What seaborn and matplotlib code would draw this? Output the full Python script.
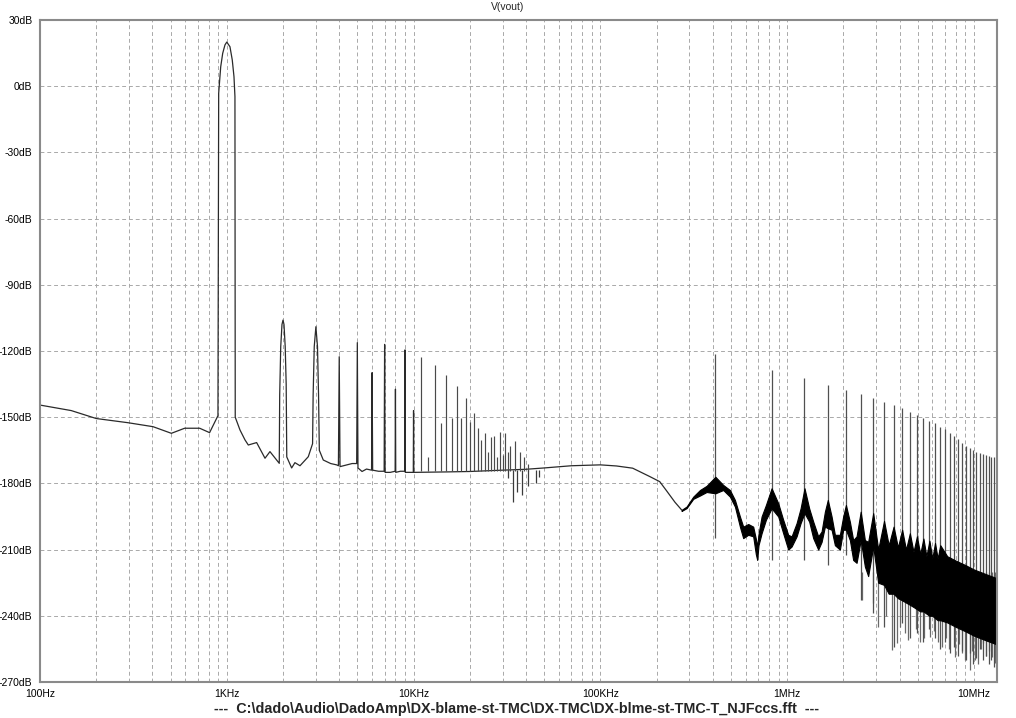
import numpy as np
import pandas as pd
import matplotlib
matplotlib.use("Agg")
import matplotlib.pyplot as plt
import seaborn as sns
from matplotlib.ticker import LogLocator, NullFormatter, FixedLocator

# ---------------- data ----------------
# main thin trace: noise floor, fundamental and low harmonics (Hz, dB)
trace_freq = [100, 147, 200, 296, 403, 505, 595, 716, 809, 897,
              905, 928, 951, 978, 1000, 1040, 1070, 1093, 1106, 1110,
              1177, 1252, 1304, 1445, 1602, 1703, 1910,
              1920, 1945, 1975, 2000, 2025, 2055, 2080, 2095,
              2225, 2317, 2466, 2732,
              2880, 2900, 2940, 3000, 3060, 3100, 3130,
              3286, 3600, 3873,
              3960, 4000, 4040, 4690,
              4960, 5000, 5040, 5300, 5600,
              5960, 6000, 6040, 6500,
              6960, 7000, 7040, 7500,
              7970, 8000, 8030, 8500,
              8970, 9000, 9030, 9500,
              9970, 10000, 10030,
              15000, 20000, 30000, 40000, 50000, 70000, 100000,
              122000, 149000, 184000, 208000, 227000, 250800, 272300]
trace_db = [-144.5, -147, -150.6, -152.5, -154.3, -157.3, -155, -155, -157, -149.3,
            -3.2, 8.8, 14.9, 18.7, 20, 17.9, 11.9, 4.3, -4.7, -150,
            -155.8, -160.3, -162.6, -161.5, -168.6, -165.6, -170.9,
            -140, -118, -108, -106, -108, -118, -135, -168,
            -173, -170.6, -172, -167.9,
            -162, -140, -118, -109, -118, -140, -165,
            -169.4, -171, -171.6,
            -172, -122.6, -172.4, -171,
            -171, -116.2, -173, -174.6, -173.5,
            -174, -129.8, -174, -174.5,
            -174.5, -117, -175, -175,
            -174.5, -137.3, -175, -174.5,
            -174.5, -119.5, -175, -175,
            -175, -147, -175,
            -174.8, -174.6, -174, -173.6, -173, -172, -171.6,
            -172.1, -173.1, -176.9, -179.2, -183.5, -188.5, -192]

# audio harmonics above 10 kHz (spikes up from the floor)
harm_freq = [11000, 12000, 13000, 14000, 15000, 16000, 17000, 18000, 19000, 20000,
             21000, 22000, 23000, 24000, 25000, 26000, 27000, 28000, 29000, 30000,
             31000, 32000, 33000, 35000, 37000, 39000, 41000]
harm_top = [-122.5, -168, -126.3, -152.7, -130.9, -150.5, -135.8, -150.5, -141.4, -152,
            -148.2, -155, -160.3, -157.3, -165.6, -158.8, -158.5, -167.9, -156.5, -167.1,
            -157.3, -165.6, -163, -160.6, -165.6, -167.9, -171]
harm_base = [-174.6] * len(harm_freq)

# downward spikes below the floor (30-50 kHz)
down_freq = [32000, 34000, 36000, 38000, 41000, 45000, 47000]
down_db = [-177.5, -188.3, -183.7, -185.2, -181.4, -180, -177]
down_top = [-173.8] * len(down_freq)

# switching-frequency band (Hz, upper edge dB, lower edge dB)
band_freq = [272.3e3, 289.7e3, 314.4e3, 341.5e3, 370.7e3, 413e3, 454.9e3, 494.1e3,
             525.6e3, 558.9e3, 582.1e3, 619.2e3, 658.4e3, 680e3, 691.8e3, 703e3,
             730.3e3, 770.1e3, 826e3, 896.3e3, 953.1e3, 1.0137e6, 1.0571e6, 1.1244e6,
             1.1812e6, 1.239e6, 1.3128e6, 1.3797e6, 1.4674e6, 1.53e6, 1.5937e6, 1.652e6,
             1.7306e6, 1.8026e6, 1.917e6, 1.9966e6, 2.065e6, 2.1686e6, 2.2584e6, 2.355e6,
             2.478e6, 2.6089e6, 2.7169e6, 2.891e6, 3.0738e6, 3.304e6, 3.5e6, 3.717e6,
             3.92e6, 4.13e6, 4.33e6, 4.543e6, 4.75e6, 4.956e6, 5.16e6, 5.369e6,
             5.57e6, 5.782e6, 5.99e6, 6.195e6, 6.4e6, 6.608e6, 7.2e6, 8.0e6,
             9.0e6, 10.0e6, 11.5e6, 13.3e6]
band_upper = [-192, -190.5, -186, -183, -181.1, -177, -180.7, -183,
              -187.5, -195, -199.6, -198.4, -199.6, -205, -208.6, -203,
              -195, -189.8, -182.2, -189, -196.5, -203.3, -204, -198,
              -191.3, -182.2, -191.3, -197.3, -204, -201.8, -192.8, -187.5,
              -195, -203.3, -203.3, -195, -189.8, -197.4, -205.7, -204,
              -192.8, -205.7, -206.5, -193.5, -210, -197, -208, -199.6,
              -209, -201, -210, -202.6, -211, -204, -212, -205,
              -213, -206, -214, -207, -214, -208, -213, -215,
              -217, -219, -221, -223]
band_lower = [-192.5, -191.2, -187, -185.5, -183.9, -184.5, -183, -186,
              -190.5, -199.6, -204.8, -203.3, -204, -212, -214.7, -208,
              -202.6, -196.5, -191.3, -195, -202.6, -210, -208.6, -204,
              -198, -193.5, -197.3, -204.8, -210, -206.5, -199.6, -200.3,
              -201, -208, -210, -201, -201, -205.7, -214.7, -216,
              -205.7, -217.7, -222, -208.6, -225, -226, -230, -230,
              -232, -233, -234, -235, -236, -237, -238, -238,
              -239, -240, -240, -241, -242, -242, -243, -245,
              -247, -249, -251, -253]

# switching harmonics (Hz, top dB, bottom dB)
sw_freq = [413e3, 826e3, 1.239e6, 1.652e6, 2.065e6, 2.478e6, 2.891e6, 3.304e6,
           3.717e6, 4.130e6, 4.543e6, 4.956e6, 5.369e6, 5.782e6, 6.195e6, 6.608e6,
           7.021e6, 7.434e6, 7.847e6, 8.260e6, 8.673e6, 9.086e6, 9.499e6, 9.912e6,
           10.325e6, 10.738e6, 11.151e6, 11.564e6, 11.977e6, 12.390e6, 12.803e6]
sw_top = [-121.5, -128.6, -132.4, -135.4, -137.7, -139.5, -141.4, -143,
          -144.4, -146, -147.5, -149, -150.5, -151.6, -152.8, -154.3,
          -155.5, -157, -158.5, -160, -161.5, -163, -164, -164.8,
          -165.6, -166.4, -166.7, -167.2, -167.6, -167.9, -168]
sw_bottom = [-204.8, -214.7, -214.7, -217, -212.4, -232.8, -238.8, -245,
             -254, -243.4, -250, -248, -252, -246, -250, -255,
             -252, -257, -254, -258, -256, -260, -257, -262,
             -259, -255, -260, -258, -262, -260, -263]

# deep gray spikes under the band
deep_freq = [2.503e6, 2.88e6, 3.074e6, 3.4e6, 3.626e6, 3.857e6, 4.0e6, 4.3e6,
             4.449e6, 4.9e6, 5.14e6, 5.4e6, 5.815e6, 6.1e6, 6.4e6, 6.717e6,
             7.1e6, 7.4e6, 7.913e6, 8.3e6, 8.6e6, 8.95e6, 9.52e6, 9.8e6,
             10.12e6, 10.5e6, 10.9e6, 11.21e6, 11.6e6, 12.0e6, 12.44e6, 12.95e6]
deep_db = [-232.8, -234.3, -245, -240, -255.5, -252.3, -245, -248,
           -251, -246, -251.7, -250, -249.4, -247, -252, -254,
           -250, -255, -258.5, -253, -257, -260, -264.5, -256,
           -260, -262, -255, -252.3, -258, -256, -258.5, -261.5]
deep_base = [-220] * len(deep_freq)

# axis labels
y_ticks = [30, 0, -30, -60, -90, -120, -150, -180, -210, -240, -270]
x_ticks = [1e2, 1e3, 1e4, 1e5, 1e6, 1e7]
x_labels = ["100Hz", "1KHz", "10KHz", "100KHz", "1MHz", "10MHz"]
title_text = "V(vout)"
footer_text = "---  C:\\dado\\Audio\\DadoAmp\\DX-blame-st-TMC\\DX-TMC\\DX-blme-st-TMC-T_NJFccs.fft  ---"

# ---------------- drawing ----------------
sns.set_theme(style="white")
plt.rcParams['font.family'] = ['Liberation Sans', 'DejaVu Sans']

W, H = 1016, 718
fig = plt.figure(figsize=(W / 100, H / 100), dpi=100)
fig.patch.set_facecolor("white")
ax = fig.add_axes([40 / W, 1 - 682 / H, (997 - 40) / W, (682 - 20) / H])
ax.set_facecolor("white")

ax.set_xscale("log")
ax.set_xlim(100, 1.33e7)
ax.set_ylim(-270, 30)

grid_kw = dict(color="#a9a9a9", lw=0.7, ls=(0, (4, 3)))
ax.xaxis.set_major_locator(FixedLocator(x_ticks))
ax.xaxis.set_minor_locator(LogLocator(base=10, subs=range(2, 10), numticks=20))
ax.xaxis.set_minor_formatter(NullFormatter())
ax.set_xticklabels(x_labels)
ax.set_yticks(y_ticks)
ax.set_yticklabels([f"{v}dB" for v in y_ticks])
ax.grid(True, which="both", axis="x", **grid_kw)
ax.grid(True, which="major", axis="y", **grid_kw)
ax.set_axisbelow(True)

df = pd.DataFrame({"freq": trace_freq, "db": trace_db})
sns.lineplot(data=df, x="freq", y="db", ax=ax, color="#2a2a2a", lw=0.9,
             sort=False, estimator=None, zorder=2)

ax.vlines(harm_freq, harm_base, harm_top, color="#4a4a4a", lw=0.85, zorder=2)
ax.vlines(down_freq, down_top, down_db, color="#3a3a3a", lw=0.9, zorder=2)
ax.vlines(deep_freq, deep_base, deep_db, color="#6a6a6a", lw=0.9, zorder=2)
ax.vlines(sw_freq, sw_bottom, sw_top, color="#505050", lw=0.9, zorder=2)
ax.fill_between(band_freq, band_lower, band_upper, color="black", lw=0.8,
                edgecolor="black", zorder=3)

ax.set_xlabel("")
ax.set_ylabel("")
for s in ax.spines.values():
    s.set_color("#8a8a8a")
    s.set_linewidth(1.5)
    s.set_zorder(5)
ax.tick_params(axis="y", which="major", direction="out", length=5, width=0.8,
               color="#666666", labelsize=7.5, pad=0.5, labelcolor="black")
ax.tick_params(axis="x", which="major", direction="out", length=3, width=0.8,
               color="#666666", labelsize=7.5, pad=2, labelcolor="black")
ax.tick_params(axis="x", which="minor", length=0)

fig.text(508 / W, 1 - 7 / H, title_text, ha="center", va="center", fontsize=7.5)
fig.text(517 / W, 1 - 709 / H, footer_text, ha="center", va="center",
         fontsize=10.4, fontweight="bold")

fig.savefig("out.png", dpi=100, facecolor="white")
